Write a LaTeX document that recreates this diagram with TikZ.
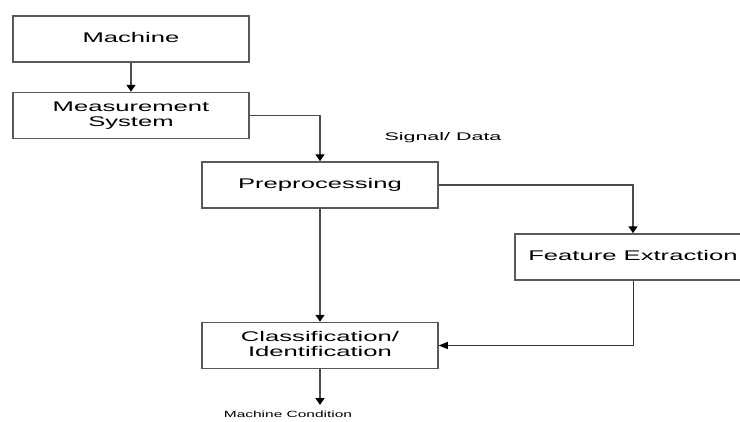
\documentclass[tikz,border=0pt]{standalone}
\usepackage{fontspec}
\setmainfont{Liberation Sans}
\usetikzlibrary{arrows.meta}
\newcommand{\wide}[2]{\scalebox{#1}[1]{\begin{tabular}{@{}c@{}}#2\end{tabular}}}
\tikzset{
  blk/.style={draw=black!65, line width=1.5pt, minimum width=236pt, minimum height=46pt, inner sep=0pt,
    font=\fontsize{14}{15}\selectfont},
  conn/.style={draw=black!70, line width=1.4pt, -{Triangle[width=9pt,length=7pt,black]}},
  thin conn/.style={draw=black!80, line width=0.9pt, -{Triangle[width=7pt,length=9pt,black]}}
}
\begin{document}
\begin{tikzpicture}[x=1pt,y=-1pt]
\useasboundingbox[fill=white] (0,0) rectangle (740,421);
\node[blk] (machine) at (131,39) {\wide{1.83}{Machine}};
\node[blk] (meas) at (131,115.5) {\wide{1.83}{Measurement\\System}};
\node[blk] (pre) at (320,185) {\wide{1.83}{Preprocessing}};
\node[blk] (feat) at (633,257) {\wide{1.83}{Feature Extraction}};
\node[blk] (cls) at (320,345.5) {\wide{1.83}{Classification/\\Identification}};
\node[font=\fontsize{11}{12}\selectfont] (sig) at (443,138) {\wide{1.95}{Signal/ Data}};
\node[font=\fontsize{9}{10}\selectfont, anchor=base, inner sep=1pt] (mc) at (288,418) {\wide{1.72}{Machine Condition}};
\coordinate (out) at (320,405);
\draw[conn] (machine.south) -- (meas.north);
\draw[conn] (meas.east) -| (pre.north);
\draw[conn] (pre.east) -| (feat.north);
\draw[conn] (pre.south) -- (cls.north);
\draw[thin conn] (feat.south) |- (cls.east);
\draw[conn] (cls.south) -- (out);
\end{tikzpicture}
\end{document}
